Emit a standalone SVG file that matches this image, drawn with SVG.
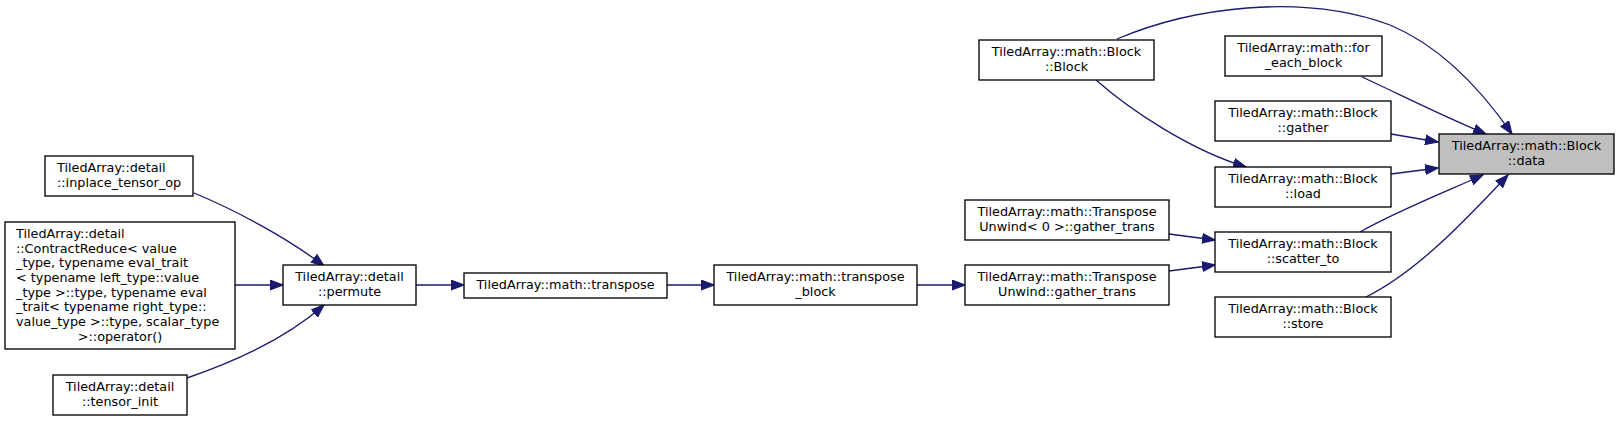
<svg xmlns="http://www.w3.org/2000/svg" width="1619" height="421" viewBox="0 0 1619 421">
<style>
.n rect{fill:#ffffff;stroke:#000000;stroke-width:1.33}
.n.h rect{fill:#bfbfbf}
.n text{font-family:"DejaVu Sans",sans-serif;font-size:12.8px;fill:#000000;text-anchor:middle}
.n text.l{text-anchor:start}
#edges path{fill:none;stroke:#191970;stroke-width:1.33}
</style>
<defs>
<marker id="a" markerWidth="15" markerHeight="11" refX="13" refY="5.5" orient="auto" markerUnits="userSpaceOnUse">
<path d="M0.5,0.8 L13,5.5 L0.5,10.2 Z" fill="#191970" stroke="#191970" stroke-width="1.2"/>
</marker>
</defs>
<rect width="1619" height="421" fill="#ffffff"/>
<g id="edges">
<path d="M1117,39 C1190,8 1300,-8 1390,25 C1445,48 1485,95 1512,134" marker-end="url(#a)"/>
<path d="M1362,77 C1395,92 1440,115 1486,134" marker-end="url(#a)"/>
<path d="M1391,134 L1438,142" marker-end="url(#a)"/>
<path d="M1391,174 L1438,168" marker-end="url(#a)"/>
<path d="M1360,232 C1395,212 1445,192 1483,175" marker-end="url(#a)"/>
<path d="M1366,297 C1420,270 1470,215 1508,175" marker-end="url(#a)"/>
<path d="M1096,80 C1130,110 1190,150 1246,167" marker-end="url(#a)"/>
<path d="M1169,234 L1215,240" marker-end="url(#a)"/>
<path d="M1169,271 L1215,265" marker-end="url(#a)"/>
<path d="M917,285 L965,285" marker-end="url(#a)"/>
<path d="M667,285 L714,285" marker-end="url(#a)"/>
<path d="M416,285 L464,285" marker-end="url(#a)"/>
<path d="M235,285 L283,285" marker-end="url(#a)"/>
<path d="M194,193 C240,212 290,240 324,266" marker-end="url(#a)"/>
<path d="M187,378 C240,360 290,335 324,305" marker-end="url(#a)"/>
</g>
<g id="data" class="n h"><rect x="1439" y="134" width="175" height="40"/><text x="1526.5" y="150">TiledArray::math::Block</text><text x="1526.5" y="164.7">::data</text></g>
<g id="block" class="n"><rect x="979" y="40" width="175" height="40"/><text x="1066.5" y="56">TiledArray::math::Block</text><text x="1066.5" y="70.7">::Block</text></g>
<g id="for_each_block" class="n"><rect x="1225" y="36" width="157" height="40"/><text x="1303.5" y="52">TiledArray::math::for</text><text x="1303.5" y="66.7">_each_block</text></g>
<g id="gather" class="n"><rect x="1215" y="101" width="176" height="40"/><text x="1303" y="117">TiledArray::math::Block</text><text x="1303" y="131.7">::gather</text></g>
<g id="load" class="n"><rect x="1215" y="167" width="176" height="40"/><text x="1303" y="183">TiledArray::math::Block</text><text x="1303" y="197.7">::load</text></g>
<g id="scatter_to" class="n"><rect x="1215" y="232" width="176" height="40"/><text x="1303" y="248">TiledArray::math::Block</text><text x="1303" y="262.7">::scatter_to</text></g>
<g id="store" class="n"><rect x="1215" y="297" width="176" height="40"/><text x="1303" y="313">TiledArray::math::Block</text><text x="1303" y="327.7">::store</text></g>
<g id="unwind0" class="n"><rect x="965" y="200" width="204" height="40"/><text x="1067" y="216">TiledArray::math::Transpose</text><text x="1067" y="230.7">Unwind&lt; 0 &gt;::gather_trans</text></g>
<g id="unwind" class="n"><rect x="965" y="265" width="204" height="40"/><text x="1067" y="281">TiledArray::math::Transpose</text><text x="1067" y="295.7">Unwind::gather_trans</text></g>
<g id="transpose_block" class="n"><rect x="714" y="265" width="203" height="40"/><text x="815.5" y="281">TiledArray::math::transpose</text><text x="815.5" y="295.7">_block</text></g>
<g id="transpose" class="n"><rect x="464" y="273" width="203" height="25"/><text x="565.5" y="289">TiledArray::math::transpose</text></g>
<g id="permute" class="n"><rect x="283" y="265" width="133" height="40"/><text x="349.5" y="281">TiledArray::detail</text><text x="349.5" y="295.7">::permute</text></g>
<g id="inplace_tensor_op" class="n"><rect x="45" y="156" width="148" height="40"/><text class="l" x="57" y="172">TiledArray::detail</text><text class="l" x="57" y="186.7">::inplace_tensor_op</text></g>
<g id="contract_reduce" class="n"><rect x="5" y="222" width="230" height="127"/>
<text class="l" x="16" y="238">TiledArray::detail</text>
<text class="l" x="16" y="252.7">::ContractReduce&lt; value</text>
<text class="l" x="16" y="267.3">_type, typename eval_trait</text>
<text class="l" x="16" y="282">&lt; typename left_type::value</text>
<text class="l" x="16" y="296.7">_type &gt;::type, typename eval</text>
<text class="l" x="16" y="311.3">_trait&lt; typename right_type::</text>
<text class="l" x="16" y="326">value_type &gt;::type, scalar_type</text>
<text x="120" y="340.7">&gt;::operator()</text></g>
<g id="tensor_init" class="n"><rect x="53" y="375" width="134" height="40"/><text x="120" y="391">TiledArray::detail</text><text x="120" y="405.7">::tensor_init</text></g>
</svg>
